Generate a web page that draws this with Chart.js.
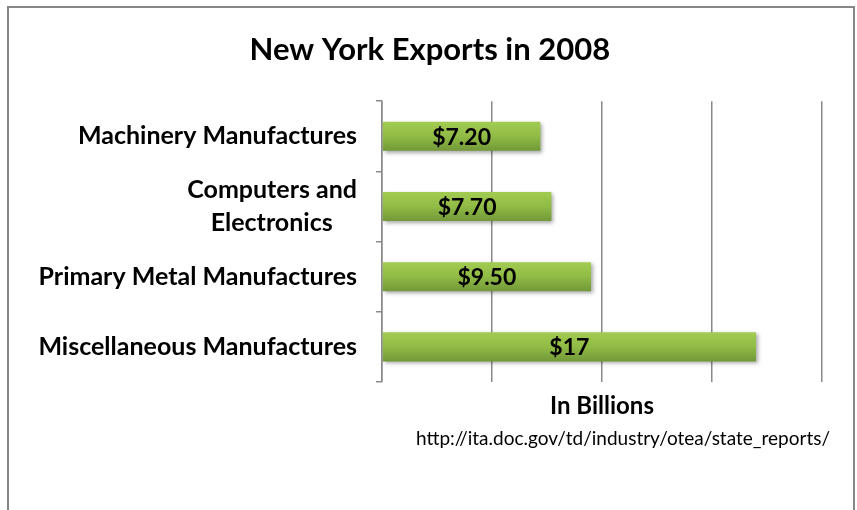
<!DOCTYPE html>
<html>
<head>
<meta charset="utf-8">
<script src="https://cdn.jsdelivr.net/npm/chart.js@4.4.0/dist/chart.umd.min.js"></script>
<style>
  html, body { margin: 0; padding: 0; background: #fff; overflow: hidden; }
  #wrap { position: relative; width: 857px; height: 510px; }
  #frame { position: absolute; left: 7px; top: 6px; width: 844px; height: 600px; border: 2px solid #878787; pointer-events: none; }
  canvas { position: absolute; left: 0; top: 0; }
</style>
</head>
<body>
<div id="wrap">
  <canvas id="chart" width="857" height="510"></canvas>
  <div id="frame"></div>
</div>
<script>
// Données (milliards de dollars)
const categories = [
  "Machinery Manufactures",
  ["Computers and", "Electronics    "],
  "Primary Metal Manufactures",
  "Miscellaneous Manufactures"
];
const exportValues = [7.2, 7.7, 9.5, 17];
const valueLabels = ["$7.20", "$7.70", "$9.50", "$17"];
const xTicks = [0, 5, 10, 15, 20];

const FONT = "Lato, 'Open Sans', sans-serif";
const GRID = "#8a8a8a";

// Ombre portée sous les barres, comme dans Excel
const barShadow = {
  id: "barShadow",
  beforeDatasetsDraw(chart) {
    const ctx = chart.ctx;
    ctx.save();
    ctx.shadowColor = "rgba(0,0,0,0.35)";
    ctx.shadowBlur = 4;
    ctx.shadowOffsetX = 2;
    ctx.shadowOffsetY = 2;
  },
  afterDatasetsDraw(chart) {
    chart.ctx.restore();
  }
};

// Étiquettes de valeur au centre de chaque barre
const barLabels = {
  id: "barLabels",
  afterDatasetsDraw(chart) {
    const ctx = chart.ctx;
    const meta = chart.getDatasetMeta(0);
    ctx.save();
    ctx.font = `bold 23px ${FONT}`;
    ctx.fillStyle = "#000";
    ctx.textAlign = "center";
    ctx.textBaseline = "middle";
    meta.data.forEach((bar, i) => {
      ctx.fillText(valueLabels[i], (bar.x + bar.base) / 2, bar.y + 1);
    });
    ctx.restore();
  }
};

// Titre de l'axe et source sous le graphique
const caption = {
  id: "caption",
  afterDraw(chart) {
    const ctx = chart.ctx;
    const area = chart.chartArea;
    const mid = (area.left + area.right) / 2;
    ctx.save();
    ctx.fillStyle = "#000";
    ctx.textAlign = "center";
    ctx.textBaseline = "middle";
    ctx.font = `bold 24px ${FONT}`;
    ctx.fillText("In Billions", mid, area.bottom + 24);
    ctx.font = `19px ${FONT}`;
    ctx.fillText("http://ita.doc.gov/td/industry/otea/state_reports/", mid + 21, area.bottom + 57);
    ctx.restore();
  }
};

function barGradient(context) {
  const chart = context.chart;
  const y = chart.scales.y;
  if (!chart.chartArea || !y || context.dataIndex === undefined) return "#8fb844";
  const c = y.getPixelForValue(context.dataIndex);
  const g = chart.ctx.createLinearGradient(0, c - 15, 0, c + 15);
  g.addColorStop(0, "#a3cc52");
  g.addColorStop(0.5, "#90bb45");
  g.addColorStop(1, "#719738");
  return g;
}

new Chart(document.getElementById("chart"), {
  type: "bar",
  data: {
    labels: categories,
    datasets: [{
      data: exportValues,
      backgroundColor: barGradient,
      borderWidth: 0,
      categoryPercentage: 1,
      barPercentage: 0.414
    }]
  },
  options: {
    indexAxis: "y",
    responsive: false,
    animation: false,
    layout: { padding: { left: 0, right: 35, top: 0, bottom: 0 } },
    plugins: {
      legend: { display: false },
      tooltip: { enabled: false },
      title: {
        display: true,
        // espaces en tête : le titre est centré sur toute la largeur dans l'original
        text: "     New York Exports in 2008",
        color: "#000",
        font: { family: FONT, size: 31, weight: "bold", lineHeight: 1.2 },
        padding: { top: 31, bottom: 33 }
      }
    },
    scales: {
      x: {
        min: xTicks[0],
        max: xTicks[xTicks.length - 1],
        afterBuildTicks(scale) { scale.ticks = xTicks.map(v => ({ value: v })); },
        afterFit(scale) { scale.height = 128; },
        ticks: { display: false },
        border: { display: false },
        grid: { color: GRID, lineWidth: 1.5, drawTicks: false }
      },
      y: {
        afterFit(scale) { scale.width = 382; },
        border: { display: true, color: GRID, width: 1.5 },
        grid: { drawOnChartArea: false, drawTicks: true, tickLength: 6, color: GRID, lineWidth: 1.5, offset: true },
        ticks: {
          color: "#000",
          padding: 19,
          font: { family: FONT, size: 25, weight: "bold", lineHeight: 1.3 }
        }
      }
    }
  },
  plugins: [barShadow, barLabels, caption]
});
</script>
</body>
</html>
